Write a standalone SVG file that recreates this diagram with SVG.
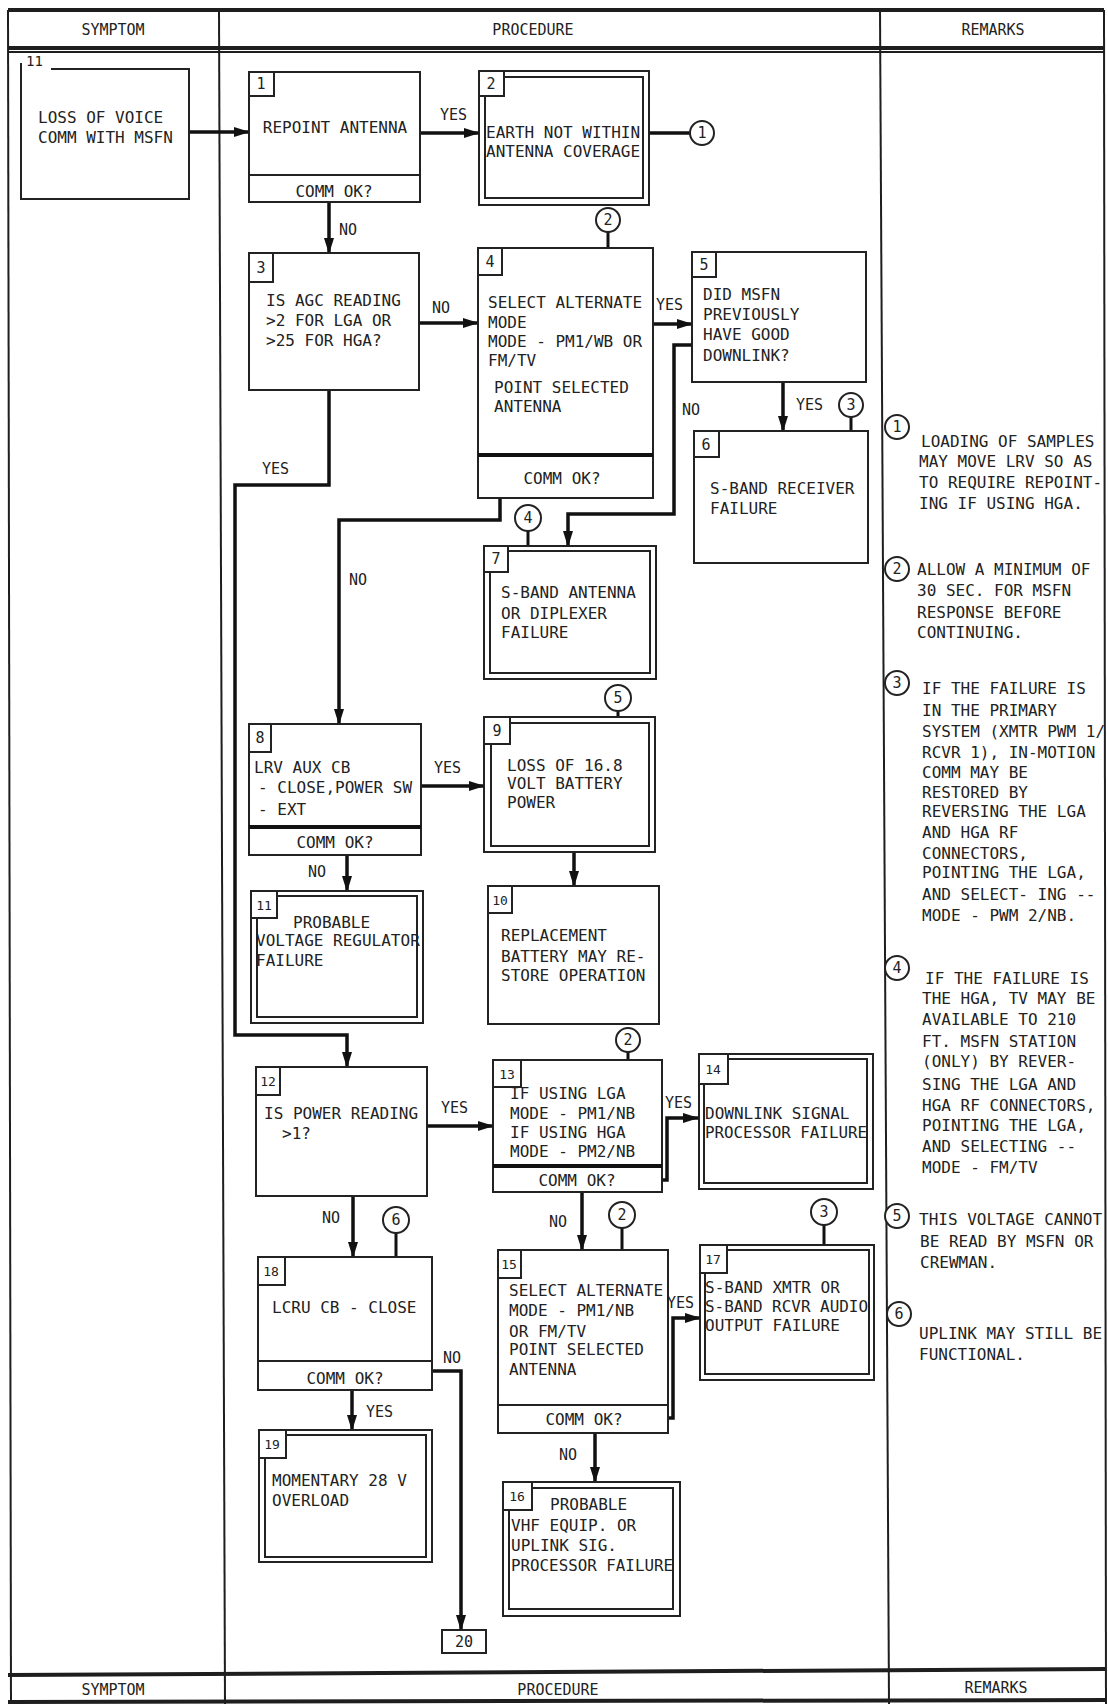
<svg xmlns="http://www.w3.org/2000/svg" width="1108" height="1704" viewBox="0 0 1108 1704">
<defs>
<style>
.fr{fill:none;stroke:#1e1e1e;stroke-width:2}
.fh{fill:none;stroke:#1e1e1e;stroke-width:4}
.b{fill:#fff;stroke:#222;stroke-width:2}
.bi{fill:none;stroke:#222;stroke-width:2}
.d{fill:none;stroke:#222;stroke-width:2}
.dt{fill:none;stroke:#111;stroke-width:4}
.c{fill:none;stroke:#111;stroke-width:3.5;stroke-linejoin:miter}
.ca{fill:none;stroke:#111;stroke-width:3.5;marker-end:url(#ah)}
.ci{fill:#fff;stroke:#222;stroke-width:2}
.cl{fill:none;stroke:#111;stroke-width:3}
.t{font-family:"DejaVu Sans Mono","Liberation Mono",monospace;font-size:16px;fill:#222}
.l{font-family:"DejaVu Sans Mono","Liberation Mono",monospace;font-size:15px;fill:#222}
.h{font-family:"DejaVu Sans Mono","Liberation Mono",monospace;font-size:15px;fill:#222;text-anchor:middle}
.n{font-family:"DejaVu Sans Mono","Liberation Mono",monospace;font-size:15px;fill:#222;text-anchor:middle}
.m{text-anchor:middle}
</style>
<marker id="ah" markerWidth="16" markerHeight="10" refX="15" refY="5" orient="auto" markerUnits="userSpaceOnUse"><path d="M0,0 L16,5 L0,10 z" fill="#111"/></marker>
</defs>
<rect x="0" y="0" width="1108" height="1704" fill="#fff"/>

<g id="frame">
<line class="fh" x1="8" y1="10" x2="1104" y2="10"/>
<line class="fh" x1="8" y1="48" x2="1104" y2="48"/>
<line class="fr" x1="8" y1="52" x2="1104" y2="52"/>
<line class="fr" x1="8" y1="10" x2="11" y2="1704"/>
<line class="fr" x1="219" y1="10" x2="225" y2="1704"/>
<line class="fr" x1="880" y1="10" x2="889" y2="1704"/>
<line class="fr" x1="1104" y1="10" x2="1106" y2="1704"/>
<line class="fh" x1="8" y1="1675" x2="1106" y2="1669"/>
<line class="fh" x1="8" y1="1702" x2="1106" y2="1700"/>
<text class="h" x="113" y="35">SYMPTOM</text>
<text class="h" x="533" y="35">PROCEDURE</text>
<text class="h" x="993" y="35">REMARKS</text>
<text class="h" x="113" y="1695">SYMPTOM</text>
<text class="h" x="558" y="1695">PROCEDURE</text>
<text class="h" x="996" y="1693">REMARKS</text>
</g>

<g id="connectors">
<line class="ca" x1="189" y1="132" x2="249" y2="132"/>
<line class="ca" x1="420" y1="133" x2="479" y2="133"/>
<line class="c" x1="649" y1="133" x2="690" y2="133"/>
<line class="ca" x1="329" y1="202" x2="329" y2="253"/>
<line class="ca" x1="419" y1="323" x2="478" y2="323"/>
<line class="ca" x1="653" y1="324" x2="692" y2="324"/>
<line class="ca" x1="783" y1="382" x2="783" y2="431"/>
<polyline class="ca" points="692,345 674,345 674,514 568,514 568,546"/>
<polyline class="ca" points="500,498 500,520 339,520 339,724"/>
<polyline class="ca" points="329,390 329,485 235,485 235,1035 347,1035 347,1067"/>
<line class="ca" x1="421" y1="786" x2="484" y2="786"/>
<line class="ca" x1="347" y1="855" x2="347" y2="891"/>
<line class="ca" x1="574" y1="852" x2="574" y2="886"/>
<line class="ca" x1="427" y1="1126" x2="493" y2="1126"/>
<polyline class="ca" points="662,1180 667,1180 667,1118 698,1118"/>
<line class="ca" x1="353" y1="1196" x2="353" y2="1257"/>
<line class="ca" x1="582" y1="1192" x2="582" y2="1250"/>
<polyline class="ca" points="668,1418 673,1418 673,1318 700,1318"/>
<line class="ca" x1="352" y1="1390" x2="352" y2="1430"/>
<polyline class="ca" points="432,1371 461,1371 461,1630"/>
<line class="ca" x1="595" y1="1433" x2="595" y2="1482"/>
<line class="cl" x1="608" y1="232" x2="608" y2="248"/>
<line class="cl" x1="851" y1="417" x2="851" y2="431"/>
<line class="cl" x1="528" y1="531" x2="528" y2="546"/>
<line class="cl" x1="618" y1="711" x2="618" y2="717"/>
<line class="cl" x1="628" y1="1052" x2="628" y2="1060"/>
<line class="cl" x1="396" y1="1233" x2="396" y2="1257"/>
<line class="cl" x1="622" y1="1228" x2="622" y2="1250"/>
<line class="cl" x1="824" y1="1225" x2="824" y2="1245"/>
<text class="l" x="440" y="120">YES</text>
<text class="l" x="339" y="235">NO</text>
<text class="l" x="432" y="313">NO</text>
<text class="l" x="656" y="310">YES</text>
<text class="l" x="796" y="410">YES</text>
<text class="l" x="682" y="415">NO</text>
<text class="l" x="262" y="474">YES</text>
<text class="l" x="349" y="585">NO</text>
<text class="l" x="434" y="773">YES</text>
<text class="l" x="308" y="877">NO</text>
<text class="l" x="441" y="1113">YES</text>
<text class="l" x="665" y="1108">YES</text>
<text class="l" x="322" y="1223">NO</text>
<text class="l" x="549" y="1227">NO</text>
<text class="l" x="667" y="1308">YES</text>
<text class="l" x="366" y="1417">YES</text>
<text class="l" x="443" y="1363">NO</text>
<text class="l" x="559" y="1460">NO</text>
</g>

<g id="refs">
<g id="ref-c1"><circle class="ci" cx="702" cy="133" r="12"/><text class="n" x="702" y="138">1</text></g>
<g id="ref-c2a"><circle class="ci" cx="608" cy="220" r="12"/><text class="n" x="608" y="225">2</text></g>
<g id="ref-c3a"><circle class="ci" cx="851" cy="405" r="12"/><text class="n" x="851" y="410">3</text></g>
<g id="ref-c4"><circle class="ci" cx="528" cy="518" r="13"/><text class="n" x="528" y="523">4</text></g>
<g id="ref-c5"><circle class="ci" cx="618" cy="698" r="13"/><text class="n" x="618" y="703">5</text></g>
<g id="ref-c2b"><circle class="ci" cx="628" cy="1040" r="12"/><text class="n" x="628" y="1045">2</text></g>
<g id="ref-c6"><circle class="ci" cx="396" cy="1220" r="13"/><text class="n" x="396" y="1225">6</text></g>
<g id="ref-c2c"><circle class="ci" cx="622" cy="1215" r="13"/><text class="n" x="622" y="1220">2</text></g>
<g id="ref-c3b"><circle class="ci" cx="824" cy="1212" r="13"/><text class="n" x="824" y="1217">3</text></g>
</g>

<g id="symptom">
<path class="d" d="M51,69 H189 V199 H21 V63"/>
<text class="t" x="26" y="66" style="font-size:14px">11</text>
<text class="t" x="38" y="123">LOSS OF VOICE</text>
<text class="t" x="38" y="143">COMM WITH MSFN</text>
</g>

<g id="n1">
<rect class="b" x="249" y="72" width="171" height="130"/>
<line class="d" x1="249" y1="175" x2="420" y2="175"/>
<rect class="b" x="249" y="72" width="25" height="24"/><text class="n" x="261" y="89">1</text>
<text class="t m" x="335" y="133">REPOINT ANTENNA</text>
<text class="t m" x="334" y="197">COMM OK?</text>
</g>

<g id="n2">
<rect class="b" x="479" y="71" width="170" height="134"/>
<rect class="bi" x="485" y="77" width="158" height="121"/>
<rect class="b" x="479" y="71" width="25" height="25"/><text class="n" x="491" y="89">2</text>
<text class="t" x="486" y="138">EARTH NOT WITHIN</text>
<text class="t" x="486" y="157">ANTENNA COVERAGE</text>
</g>

<g id="n3">
<rect class="b" x="249" y="253" width="170" height="137"/>
<rect class="b" x="249" y="253" width="24" height="29"/><text class="n" x="261" y="273">3</text>
<text class="t" x="266" y="306">IS AGC READING</text>
<text class="t" x="266" y="326">&gt;2 FOR LGA OR</text>
<text class="t" x="266" y="346">&gt;25 FOR HGA?</text>
</g>

<g id="n4">
<rect class="b" x="478" y="248" width="175" height="250"/>
<line class="dt" x1="478" y1="455" x2="653" y2="455"/>
<rect class="b" x="478" y="248" width="24" height="27"/><text class="n" x="490" y="267">4</text>
<text class="t" x="488" y="308">SELECT ALTERNATE</text>
<text class="t" x="488" y="328">MODE</text>
<text class="t" x="488" y="347">MODE - PM1/WB OR</text>
<text class="t" x="488" y="366">FM/TV</text>
<text class="t" x="494" y="393">POINT SELECTED</text>
<text class="t" x="494" y="412">ANTENNA</text>
<text class="t m" x="562" y="484">COMM OK?</text>
</g>

<g id="n5">
<rect class="b" x="692" y="252" width="174" height="130"/>
<rect class="b" x="692" y="252" width="24" height="25"/><text class="n" x="704" y="270">5</text>
<text class="t" x="703" y="300">DID MSFN</text>
<text class="t" x="703" y="320">PREVIOUSLY</text>
<text class="t" x="703" y="340">HAVE GOOD</text>
<text class="t" x="703" y="361">DOWNLINK?</text>
</g>

<g id="n6">
<rect class="b" x="694" y="431" width="174" height="132"/>
<rect class="b" x="694" y="431" width="25" height="26"/><text class="n" x="706" y="450">6</text>
<text class="t" x="710" y="494">S-BAND RECEIVER</text>
<text class="t" x="710" y="514">FAILURE</text>
</g>

<g id="n7">
<rect class="b" x="484" y="546" width="172" height="133"/>
<rect class="bi" x="490" y="551" width="160" height="122"/>
<rect class="b" x="484" y="546" width="24" height="26"/><text class="n" x="496" y="564">7</text>
<text class="t" x="501" y="598">S-BAND ANTENNA</text>
<text class="t" x="501" y="619">OR DIPLEXER</text>
<text class="t" x="501" y="638">FAILURE</text>
</g>

<g id="n8">
<rect class="b" x="249" y="724" width="172" height="131"/>
<line class="dt" x1="249" y1="827" x2="421" y2="827"/>
<rect class="b" x="249" y="724" width="22" height="28"/><text class="n" x="260" y="743">8</text>
<text class="t" x="254" y="773">LRV AUX CB</text>
<text class="t" x="258" y="793">- CLOSE,POWER SW</text>
<text class="t" x="258" y="815">- EXT</text>
<text class="t m" x="335" y="848">COMM OK?</text>
</g>

<g id="n9">
<rect class="b" x="484" y="717" width="171" height="135"/>
<rect class="bi" x="491" y="723" width="158" height="123"/>
<rect class="b" x="484" y="717" width="26" height="27"/><text class="n" x="497" y="736">9</text>
<text class="t" x="507" y="771">LOSS OF 16.8</text>
<text class="t" x="507" y="789">VOLT BATTERY</text>
<text class="t" x="507" y="808">POWER</text>
</g>

<g id="n10">
<rect class="b" x="488" y="886" width="171" height="138"/>
<rect class="b" x="488" y="886" width="24" height="27"/><text class="n" x="500" y="905" style="font-size:13px">10</text>
<text class="t" x="501" y="941">REPLACEMENT</text>
<text class="t" x="501" y="962">BATTERY MAY RE-</text>
<text class="t" x="501" y="981">STORE OPERATION</text>
</g>

<g id="n11">
<rect class="b" x="251" y="891" width="172" height="132"/>
<rect class="bi" x="257" y="896" width="160" height="121"/>
<rect class="b" x="251" y="891" width="26" height="27"/><text class="n" x="264" y="910" style="font-size:13px">11</text>
<text class="t" x="293" y="928">PROBABLE</text>
<text class="t" x="256" y="946">VOLTAGE REGULATOR</text>
<text class="t" x="256" y="966">FAILURE</text>
</g>

<g id="n12">
<rect class="b" x="256" y="1067" width="171" height="129"/>
<rect class="b" x="256" y="1067" width="24" height="28"/><text class="n" x="268" y="1086" style="font-size:13px">12</text>
<text class="t" x="264" y="1119">IS POWER READING</text>
<text class="t" x="282" y="1139">&gt;1?</text>
</g>

<g id="n13">
<rect class="b" x="493" y="1060" width="169" height="132"/>
<line class="dt" x1="493" y1="1166" x2="662" y2="1166"/>
<rect class="b" x="493" y="1060" width="28" height="27"/><text class="n" x="507" y="1079" style="font-size:13px">13</text>
<text class="t" x="510" y="1099">IF USING LGA</text>
<text class="t" x="510" y="1119">MODE - PM1/NB</text>
<text class="t" x="510" y="1138">IF USING HGA</text>
<text class="t" x="510" y="1157">MODE - PM2/NB</text>
<text class="t m" x="577" y="1186">COMM OK?</text>
</g>

<g id="n14">
<rect class="b" x="699" y="1054" width="174" height="135"/>
<rect class="bi" x="704" y="1059" width="163" height="124"/>
<rect class="b" x="699" y="1054" width="29" height="30"/><text class="n" x="713" y="1074" style="font-size:13px">14</text>
<text class="t" x="705" y="1119">DOWNLINK SIGNAL</text>
<text class="t" x="705" y="1138" textLength="162" lengthAdjust="spacingAndGlyphs">PROCESSOR FAILURE</text>
</g>

<g id="n15">
<rect class="b" x="498" y="1250" width="170" height="183"/>
<line class="d" x1="498" y1="1405" x2="668" y2="1405"/>
<rect class="b" x="498" y="1250" width="23" height="28"/><text class="n" x="509" y="1269" style="font-size:13px">15</text>
<text class="t" x="509" y="1296">SELECT ALTERNATE</text>
<text class="t" x="509" y="1316">MODE - PM1/NB</text>
<text class="t" x="509" y="1337">OR FM/TV</text>
<text class="t" x="509" y="1355">POINT SELECTED</text>
<text class="t" x="509" y="1375">ANTENNA</text>
<text class="t m" x="584" y="1425">COMM OK?</text>
</g>

<g id="n16">
<rect class="b" x="503" y="1482" width="177" height="134"/>
<rect class="bi" x="509" y="1488" width="164" height="121"/>
<rect class="b" x="503" y="1482" width="29" height="28"/><text class="n" x="517" y="1501" style="font-size:13px">16</text>
<text class="t" x="550" y="1510">PROBABLE</text>
<text class="t" x="511" y="1531">VHF EQUIP. OR</text>
<text class="t" x="511" y="1551">UPLINK SIG.</text>
<text class="t" x="511" y="1571" textLength="162" lengthAdjust="spacingAndGlyphs">PROCESSOR FAILURE</text>
</g>

<g id="n17">
<rect class="b" x="700" y="1245" width="174" height="135"/>
<rect class="bi" x="705" y="1250" width="164" height="124"/>
<rect class="b" x="700" y="1245" width="27" height="28"/><text class="n" x="713" y="1264" style="font-size:13px">17</text>
<text class="t" x="705" y="1293">S-BAND XMTR OR</text>
<text class="t" x="705" y="1312" textLength="163" lengthAdjust="spacingAndGlyphs">S-BAND RCVR AUDIO</text>
<text class="t" x="705" y="1331">OUTPUT FAILURE</text>
</g>

<g id="n18">
<rect class="b" x="258" y="1257" width="174" height="133"/>
<line class="d" x1="258" y1="1361" x2="432" y2="1361"/>
<rect class="b" x="258" y="1257" width="27" height="28"/><text class="n" x="271" y="1276" style="font-size:13px">18</text>
<text class="t" x="272" y="1313">LCRU CB - CLOSE</text>
<text class="t m" x="345" y="1384">COMM OK?</text>
</g>

<g id="n19">
<rect class="b" x="259" y="1430" width="173" height="132"/>
<rect class="bi" x="265" y="1435" width="161" height="122"/>
<rect class="b" x="259" y="1430" width="27" height="28"/><text class="n" x="272" y="1449" style="font-size:13px">19</text>
<text class="t" x="272" y="1486">MOMENTARY 28 V</text>
<text class="t" x="272" y="1506">OVERLOAD</text>
</g>

<g id="n20">
<rect class="b" x="442" y="1630" width="44" height="23"/>
<text class="n" x="464" y="1647">20</text>
</g>

<g id="remarks">
<g id="rm1"><circle class="ci" cx="897" cy="427" r="12"/><text class="n" x="897" y="432">1</text>
<text class="t" x="921" y="447">LOADING OF SAMPLES</text>
<text class="t" x="919" y="467">MAY MOVE LRV SO AS</text>
<text class="t" x="919" y="488">TO REQUIRE REPOINT-</text>
<text class="t" x="919" y="509">ING IF USING HGA.</text></g>
<g id="rm2"><circle class="ci" cx="897" cy="569" r="12"/><text class="n" x="897" y="574">2</text>
<text class="t" x="917" y="575">ALLOW A MINIMUM OF</text>
<text class="t" x="917" y="596">30 SEC. FOR MSFN</text>
<text class="t" x="917" y="618">RESPONSE BEFORE</text>
<text class="t" x="917" y="638">CONTINUING.</text></g>
<g id="rm3"><circle class="ci" cx="897" cy="683" r="12"/><text class="n" x="897" y="688">3</text>
<text class="t" x="922" y="694">IF THE FAILURE IS</text>
<text class="t" x="922" y="716">IN THE PRIMARY</text>
<text class="t" x="922" y="737">SYSTEM (XMTR PWM 1/</text>
<text class="t" x="922" y="758">RCVR 1), IN-MOTION</text>
<text class="t" x="922" y="778">COMM MAY BE</text>
<text class="t" x="922" y="798">RESTORED BY</text>
<text class="t" x="922" y="817">REVERSING THE LGA</text>
<text class="t" x="922" y="838">AND HGA RF</text>
<text class="t" x="922" y="859">CONNECTORS,</text>
<text class="t" x="922" y="878">POINTING THE LGA,</text>
<text class="t" x="922" y="900">AND SELECT- ING --</text>
<text class="t" x="922" y="921">MODE - PWM 2/NB.</text></g>
<g id="rm4"><circle class="ci" cx="897" cy="968" r="12"/><text class="n" x="897" y="973">4</text>
<text class="t" x="925" y="984">IF THE FAILURE IS</text>
<text class="t" x="922" y="1004">THE HGA, TV MAY BE</text>
<text class="t" x="922" y="1025">AVAILABLE TO 210</text>
<text class="t" x="922" y="1047">FT. MSFN STATION</text>
<text class="t" x="922" y="1067">(ONLY) BY REVER-</text>
<text class="t" x="922" y="1090">SING THE LGA AND</text>
<text class="t" x="922" y="1111">HGA RF CONNECTORS,</text>
<text class="t" x="922" y="1131">POINTING THE LGA,</text>
<text class="t" x="922" y="1152">AND SELECTING --</text>
<text class="t" x="922" y="1173">MODE - FM/TV</text></g>
<g id="rm5"><circle class="ci" cx="897" cy="1216" r="12"/><text class="n" x="897" y="1221">5</text>
<text class="t" x="919" y="1225">THIS VOLTAGE CANNOT</text>
<text class="t" x="920" y="1247">BE READ BY MSFN OR</text>
<text class="t" x="920" y="1268">CREWMAN.</text></g>
<g id="rm6"><circle class="ci" cx="899" cy="1314" r="12"/><text class="n" x="899" y="1319">6</text>
<text class="t" x="919" y="1339">UPLINK MAY STILL BE</text>
<text class="t" x="919" y="1360">FUNCTIONAL.</text></g>
</g>
</svg>
